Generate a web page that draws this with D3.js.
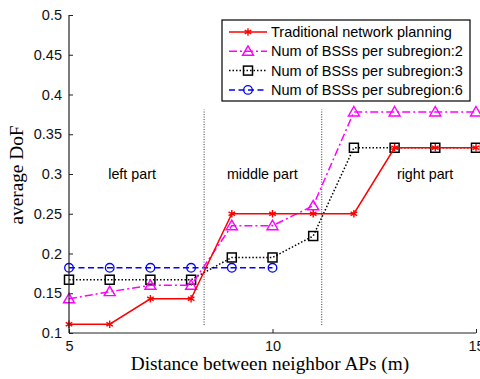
<!DOCTYPE html>
<html><head><meta charset="utf-8">
<script src="https://cdn.jsdelivr.net/npm/d3@7"></script>
<style>body{margin:0;background:#fff}svg{display:block}</style>
</head><body>
<svg id="c" width="480" height="379"></svg>
<script>
const xValues = [5,6,7,8,9,10,11,12,13,14,15];
const traditional = [0.111,0.111,0.143,0.143,0.25,0.25,0.25,0.25,0.333,0.333,0.333];
const bss2 = [0.143,0.152,0.16,0.16,0.235,0.235,0.26,0.378,0.378,0.378,0.378];
const bss3 = [0.167,0.167,0.167,0.167,0.195,0.195,0.222,0.333,0.333,0.333,0.333];
const bss6 = [0.182,0.182,0.182,0.182,0.182,0.182];
const xTicks = [5,10,15];
const yTicks = [0.1,0.15,0.2,0.25,0.3,0.35,0.4,0.45,0.5];
const dividers = [8.32,11.21];
const dividerRange = [0.11,0.381];
const partLabels = [{t:"left part",x:6.55,y:0.3},{t:"middle part",x:9.75,y:0.3},{t:"right part",x:13.75,y:0.3}];
const seriesNames = ["Traditional network planning","Num of BSSs per subregion:2","Num of BSSs per subregion:3","Num of BSSs per subregion:6"];

const svg = d3.select("#c");
const x = d3.scaleLinear().domain([5,15]).range([69,476]);
const y = d3.scaleLinear().domain([0.1,0.5]).range([333,15]);

const series = [
  {name:seriesNames[3], vals:bss6, color:"#0000ff", dash:"6,3.5", marker:"circle"},
  {name:seriesNames[2], vals:bss3, color:"#000000", dash:"1.5,2", marker:"square"},
  {name:seriesNames[1], vals:bss2, color:"#ff00ff", dash:"8,3,2,3", marker:"triangle"},
  {name:seriesNames[0], vals:traditional, color:"#ff0000", dash:null, marker:"star"}
];

const font = "Liberation Sans, Arial, sans-serif";
const serif = "Liberation Serif, Times New Roman, serif";

// dividers
svg.selectAll(".div").data(dividers).enter().append("line")
  .attr("x1",d=>x(d)).attr("x2",d=>x(d))
  .attr("y1",y(dividerRange[0])).attr("y2",y(dividerRange[1]))
  .attr("stroke","#333").attr("stroke-width",1).attr("stroke-dasharray","1,1.5");

svg.selectAll(".pl").data(partLabels).enter().append("text")
  .attr("x",d=>x(d.x)).attr("y",d=>y(d.y)+5)
  .attr("text-anchor","middle").attr("font-family",font)
  .attr("font-size",14.3).text(d=>d.t);

function drawMarker(g, type, color, cx, cy){
  if(type==="circle"){
    g.append("circle").attr("cx",cx).attr("cy",cy).attr("r",4.3)
      .attr("fill","none").attr("stroke",color).attr("stroke-width",1.3);
  } else if(type==="square"){
    g.append("rect").attr("x",cx-4.5).attr("y",cy-4.5).attr("width",9).attr("height",9)
      .attr("fill","none").attr("stroke",color).attr("stroke-width",1.5);
  } else if(type==="triangle"){
    g.append("path").attr("d",`M${cx},${cy-5.5}L${cx+5.5},${cy+4}L${cx-5.5},${cy+4}Z`)
      .attr("fill","none").attr("stroke",color).attr("stroke-width",1.4);
  } else {
    g.append("path").attr("transform",`translate(${cx},${cy})`)
      .attr("d",d3.symbol(d3.symbolAsterisk,40)())
      .attr("fill","none").attr("stroke",color).attr("stroke-width",1.4);
  }
}

const line = d3.line().x((d,i)=>x(xValues[i])).y(d=>y(d));
series.forEach(s=>{
  const g = svg.append("g");
  g.append("path").attr("d",line(s.vals)).attr("fill","none")
    .attr("stroke",s.color).attr("stroke-width",1.5)
    .attr("stroke-dasharray",s.dash);
  s.vals.forEach((v,i)=>drawMarker(g,s.marker,s.color,x(xValues[i]),y(v)));
});

// axes
const ax = svg.append("g").attr("transform","translate(0,333)")
  .call(d3.axisBottom(x).tickValues(xTicks).tickSize(-4).tickPadding(8).tickFormat(d3.format("d")));
const ay = svg.append("g").attr("transform","translate(69,0)")
  .call(d3.axisLeft(y).tickValues(yTicks).tickSize(-4).tickPadding(7).tickFormat(d=>String(+d.toFixed(2))));
[ax,ay].forEach(a=>{
  a.select(".domain").attr("stroke","#222").attr("stroke-width",1.2);
  a.selectAll(".tick line").attr("stroke","#222");
  a.selectAll("text").attr("font-family",font).attr("font-size",14.5).attr("fill","#111");
});
ay.select(".domain").attr("d","M0,15V333");
ax.select(".domain").attr("d","M69,0H476");

svg.append("text").attr("x",270).attr("y",370).attr("text-anchor","middle")
  .attr("font-family",serif).attr("font-size",19.3)
  .text("Distance between neighbor APs (m)");
svg.append("text").attr("transform","translate(23,175) rotate(-90)").attr("text-anchor","middle")
  .attr("font-family",serif).attr("font-size",19.3)
  .text("average DoF");

// legend
const lg = svg.append("g");
lg.append("rect").attr("x",222).attr("y",20).attr("width",248).attr("height",81)
  .attr("fill","#fff").attr("stroke","#000").attr("stroke-width",1.2);
const legOrder = [series[3],series[2],series[1],series[0]];
legOrder.forEach((s,i)=>{
  const yy = 32 + i*19.3;
  lg.append("line").attr("x1",229).attr("x2",267).attr("y1",yy).attr("y2",yy)
    .attr("stroke",s.color).attr("stroke-width",1.5).attr("stroke-dasharray",s.dash);
  drawMarker(lg,s.marker,s.color,248,yy);
  lg.append("text").attr("x",271).attr("y",yy+5).attr("font-family",font)
    .attr("font-size",14.5).text(s.name);
});
</script>
</body></html>
